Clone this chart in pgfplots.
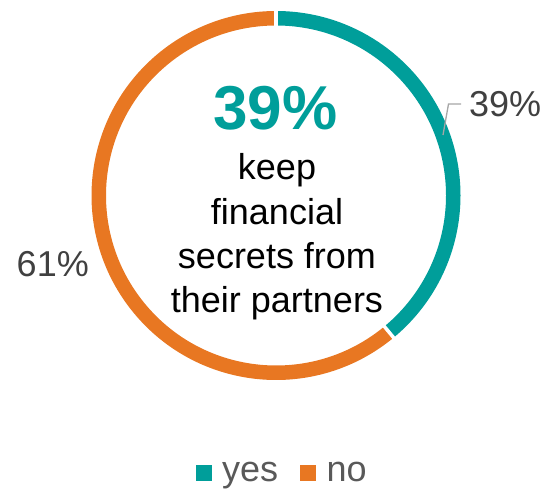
\documentclass[border=0pt]{standalone}
\usepackage{pgfplots}
\pgfplotsset{compat=1.18}
\usepackage{pgfplotstable}
\usepackage{fontspec}
\setmainfont{Liberation Sans}
\definecolor{cteal}{RGB}{0,158,154}
\definecolor{corange}{RGB}{232,119,34}
\definecolor{labgray}{RGB}{64,64,64}
\definecolor{leggray}{RGB}{89,89,89}
\definecolor{leadgray}{RGB}{166,166,166}

\pgfplotstableread{
label value
yes 39
no 61
}\donutdata

\begin{document}
\begin{tikzpicture}
\pgfplotstablegetelem{0}{value}\of\donutdata \edef\vyes{\pgfplotsretval}
\pgfplotstablegetelem{1}{value}\of\donutdata \edef\vno{\pgfplotsretval}
\pgfmathsetmacro\ayes{\vyes/(\vyes+\vno)*360}
\pgfmathsetmacro\ano{\vno/(\vyes+\vno)*360}
\pgfmathsetmacro\aend{90-\ayes}
\begin{axis}[
  width=548pt, height=490pt, scale only axis,
  xmin=0, xmax=548, ymin=0, ymax=490,
  hide axis, clip=false,
  legend columns=2,
  legend style={draw=none, fill=none, at={(rel axis cs:0.515,0.035)}, anchor=center,
    font=\fontsize{36}{40}\selectfont, text=leggray,
    /tikz/every odd column/.append style={column sep=9pt},
    /tikz/every even column/.append style={column sep=20pt}},
  legend image code/.code={\fill[#1] (0pt,-7.5pt) rectangle (15pt,7.5pt);},
]
\path (axis cs:0,0) rectangle (axis cs:548,490);
\addlegendimage{cteal}
\addlegendentry{yes}
\addlegendimage{corange}
\addlegendentry{no}
% donut ring
\draw[cteal, line width=14.5pt] (axis cs:276,294.5) ++(90:177.25pt) arc[start angle=90, delta angle=-\ayes, radius=177.25pt];
\draw[corange, line width=14.5pt] (axis cs:276,294.5) ++(\aend:177.25pt) arc[start angle=\aend, delta angle=-\ano, radius=177.25pt];
% separators
\draw[white, line width=3.5pt] (axis cs:276,294.5) ++(90:165pt) -- ++(90:25pt);
\draw[white, line width=3.5pt] (axis cs:276,294.5) ++(\aend:165pt) -- ++(\aend:25pt);
% leader line and labels
\draw[leadgray, line width=1.3pt] (axis cs:443,355) -- (axis cs:448.5,386) -- (axis cs:461,386);
\node[anchor=west, inner sep=0pt, text=labgray, font=\fontsize{36}{40}\selectfont] at (axis cs:469,386) {39\%};
\node[anchor=east, inner sep=0pt, text=labgray, font=\fontsize{36}{40}\selectfont] at (axis cs:89,226) {61\%};
% center text
\node[anchor=base, inner sep=0pt, text=cteal, font=\fontsize{62}{70}\selectfont\bfseries] at (axis cs:275.5,360) {39\%};
\node[anchor=base, inner sep=0pt, font=\fontsize{36}{44}\selectfont] at (axis cs:277,310) {keep};
\node[anchor=base, inner sep=0pt, font=\fontsize{36}{44}\selectfont] at (axis cs:277,265) {financial};
\node[anchor=base, inner sep=0pt, font=\fontsize{36}{44}\selectfont] at (axis cs:277,221) {secrets from};
\node[anchor=base, inner sep=0pt, font=\fontsize{36}{44}\selectfont] at (axis cs:277,177) {their partners};
\end{axis}
\end{tikzpicture}
\end{document}
